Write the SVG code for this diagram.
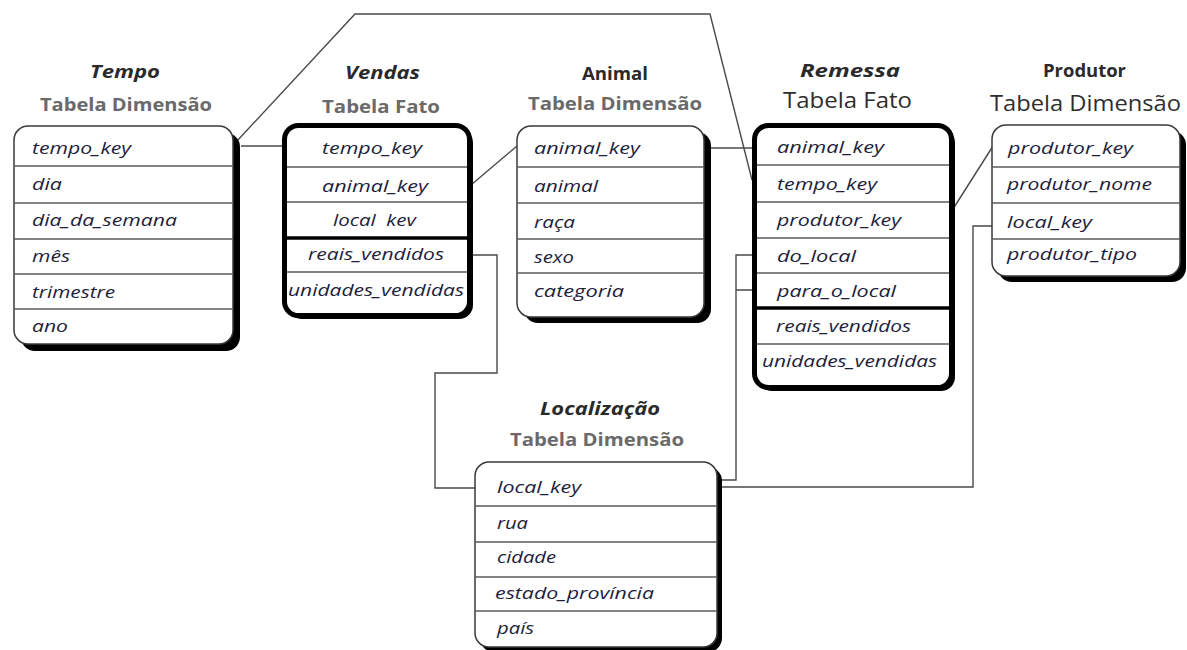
<svg xmlns="http://www.w3.org/2000/svg" width="1187" height="650" viewBox="0 0 1187 650">
  <style>
    .bg { fill: #ffffff; }
    .dim { fill: #ffffff; stroke: #3a3a3a; stroke-width: 1.5; }
    .fact { fill: #ffffff; stroke: #000000; stroke-width: 5; }
    .shadow { fill: #000000; }
    .sep { stroke: #5a5a5a; stroke-width: 1.5; }
    .sepb { stroke: #000000; stroke-width: 3.5; }
    .wire { fill: none; stroke: #4a4a4a; stroke-width: 1.4; }
    .row { font-family: "Open Sans", "Liberation Sans", sans-serif; font-style: italic; font-weight: 500; font-size: 16px; fill: #1e1e3c; }
    .title { font-family: "Open Sans", "Liberation Sans", sans-serif; font-weight: bold; font-size: 17px; fill: #2a2a2a; }
    .it { font-style: italic; }
    .sub { font-family: "Open Sans", "Liberation Sans", sans-serif; font-weight: bold; font-size: 17px; fill: #6a6a6a; }
    .subdark { font-family: "Open Sans", "Liberation Sans", sans-serif; font-weight: normal; font-size: 21px; fill: #2e2e2e; }
  </style>
  <rect class="bg" x="0" y="0" width="1187" height="650"/>

  <!-- key connectors -->
  <g id="connectors">
    <path class="wire" d="M237,141 L355,14 L710,14 L752,180"/>
    <path class="wire" d="M241,146 L284,146"/>
    <path class="wire" d="M471,185 L517,146"/>
    <path class="wire" d="M711,148 L752,148"/>
    <path class="wire" d="M953,209 L993,146"/>
    <path class="wire" d="M471,255 L497,255 L497,373 L435,373 L435,488 L475,488"/>
    <path class="wire" d="M752,255 L736,255 L736,480 L717,480 M736,290 L752,290"/>
    <path class="wire" d="M992,226 L973,226 L973,487 L722,487"/>
  </g>

  <!-- Tempo dimension -->
  <g id="tempo">
    <text class="title it" x="90" y="78" textLength="70" lengthAdjust="spacingAndGlyphs">Tempo</text>
    <text class="sub" x="40" y="111" textLength="172" lengthAdjust="spacingAndGlyphs">Tabela Dimensão</text>
    <rect class="shadow" x="21" y="133" width="219" height="218" rx="14"/>
    <rect class="dim" x="14" y="126" width="219" height="218" rx="14"/>
    <line class="sep" x1="14" y1="166" x2="233" y2="166"/>
    <line class="sep" x1="14" y1="203" x2="233" y2="203"/>
    <line class="sep" x1="14" y1="239" x2="233" y2="239"/>
    <line class="sep" x1="14" y1="274" x2="233" y2="274"/>
    <line class="sep" x1="14" y1="309" x2="233" y2="309"/>
    <text class="row" x="32" y="154" textLength="99" lengthAdjust="spacingAndGlyphs">tempo_key</text>
    <text class="row" x="32" y="190" textLength="30" lengthAdjust="spacingAndGlyphs">dia</text>
    <text class="row" x="32" y="226" textLength="145" lengthAdjust="spacingAndGlyphs">dia_da_semana</text>
    <text class="row" x="32" y="262" textLength="38" lengthAdjust="spacingAndGlyphs">mês</text>
    <text class="row" x="32" y="298" textLength="83" lengthAdjust="spacingAndGlyphs">trimestre</text>
    <text class="row" x="32" y="332" textLength="36" lengthAdjust="spacingAndGlyphs">ano</text>
  </g>

  <!-- Vendas fact -->
  <g id="vendas">
    <text class="title it" x="345" y="79" textLength="75" lengthAdjust="spacingAndGlyphs">Vendas</text>
    <text class="sub" x="322" y="113" textLength="118" lengthAdjust="spacingAndGlyphs">Tabela Fato</text>
    <rect class="shadow" x="288" y="129" width="185" height="190" rx="14"/>
    <rect class="fact" x="284.5" y="125.5" width="185" height="190" rx="14"/>
    <line class="sep" x1="287" y1="167" x2="467" y2="167"/>
    <line class="sep" x1="287" y1="202" x2="467" y2="202"/>
    <line class="sepb" x1="287" y1="238" x2="467" y2="238"/>
    <line class="sep" x1="287" y1="272" x2="467" y2="272"/>
    <text class="row" x="322" y="154" textLength="100" lengthAdjust="spacingAndGlyphs">tempo_key</text>
    <text class="row" x="322" y="192" textLength="106" lengthAdjust="spacingAndGlyphs">animal_key</text>
    <text class="row" x="333" y="226" textLength="83" lengthAdjust="spacingAndGlyphs">local&#160; kev</text>
    <text class="row" x="308" y="260" textLength="136" lengthAdjust="spacingAndGlyphs">reais_vendidos</text>
    <text class="row" x="288" y="296" textLength="176" lengthAdjust="spacingAndGlyphs">unidades_vendidas</text>
  </g>

  <!-- Animal dimension -->
  <g id="animal">
    <text class="title" x="582" y="80" textLength="66" lengthAdjust="spacingAndGlyphs">Animal</text>
    <text class="sub" x="528" y="110" textLength="174" lengthAdjust="spacingAndGlyphs">Tabela Dimensão</text>
    <rect class="shadow" x="524" y="132" width="187" height="191" rx="14"/>
    <rect class="dim" x="517" y="126" width="187" height="191" rx="14"/>
    <line class="sep" x1="517" y1="167" x2="704" y2="167"/>
    <line class="sep" x1="517" y1="203" x2="704" y2="203"/>
    <line class="sep" x1="517" y1="239" x2="704" y2="239"/>
    <line class="sep" x1="517" y1="273" x2="704" y2="273"/>
    <text class="row" x="534" y="154" textLength="106" lengthAdjust="spacingAndGlyphs">animal_key</text>
    <text class="row" x="534" y="192" textLength="64" lengthAdjust="spacingAndGlyphs">animal</text>
    <text class="row" x="534" y="228" textLength="41" lengthAdjust="spacingAndGlyphs">raça</text>
    <text class="row" x="534" y="263" textLength="40" lengthAdjust="spacingAndGlyphs">sexo</text>
    <text class="row" x="534" y="297" textLength="90" lengthAdjust="spacingAndGlyphs">categoria</text>
  </g>

  <!-- Remessa fact -->
  <g id="remessa">
    <text class="title it" x="800" y="77" font-size="20" textLength="100" lengthAdjust="spacingAndGlyphs">Remessa</text>
    <text class="subdark" x="783" y="108" textLength="129" lengthAdjust="spacingAndGlyphs">Tabela Fato</text>
    <rect class="shadow" x="758" y="129" width="197" height="262" rx="14"/>
    <rect class="fact" x="754.5" y="125.5" width="197" height="262" rx="14"/>
    <line class="sep" x1="757" y1="165" x2="949" y2="165"/>
    <line class="sep" x1="757" y1="202" x2="949" y2="202"/>
    <line class="sep" x1="757" y1="238" x2="949" y2="238"/>
    <line class="sep" x1="757" y1="273" x2="949" y2="273"/>
    <line class="sepb" x1="757" y1="308" x2="949" y2="308"/>
    <line class="sep" x1="757" y1="344" x2="949" y2="344"/>
    <text class="row" x="777" y="153" textLength="107" lengthAdjust="spacingAndGlyphs">animal_key</text>
    <text class="row" x="777" y="190" textLength="100" lengthAdjust="spacingAndGlyphs">tempo_key</text>
    <text class="row" x="777" y="226" textLength="124" lengthAdjust="spacingAndGlyphs">produtor_key</text>
    <text class="row" x="777" y="262" textLength="79" lengthAdjust="spacingAndGlyphs">do_local</text>
    <text class="row" x="777" y="297" textLength="119" lengthAdjust="spacingAndGlyphs">para_o_local</text>
    <text class="row" x="776" y="332" textLength="135" lengthAdjust="spacingAndGlyphs">reais_vendidos</text>
    <text class="row" x="762" y="367" textLength="175" lengthAdjust="spacingAndGlyphs">unidades_vendidas</text>
  </g>

  <!-- Produtor dimension -->
  <g id="produtor">
    <text class="title" x="1043" y="77" textLength="83" lengthAdjust="spacingAndGlyphs">Produtor</text>
    <text class="subdark" x="990" y="111" font-size="22" textLength="191" lengthAdjust="spacingAndGlyphs">Tabela Dimensão</text>
    <rect class="shadow" x="998" y="131" width="188" height="151" rx="14"/>
    <rect class="dim" x="992" y="125" width="188" height="151" rx="14"/>
    <line class="sep" x1="992" y1="167" x2="1180" y2="167"/>
    <line class="sep" x1="992" y1="203" x2="1180" y2="203"/>
    <line class="sep" x1="992" y1="239" x2="1180" y2="239"/>
    <text class="row" x="1008" y="154" textLength="125" lengthAdjust="spacingAndGlyphs">produtor_key</text>
    <text class="row" x="1007" y="190" textLength="145" lengthAdjust="spacingAndGlyphs">produtor_nome</text>
    <text class="row" x="1007" y="228" textLength="85" lengthAdjust="spacingAndGlyphs">local_key</text>
    <text class="row" x="1007" y="260" textLength="130" lengthAdjust="spacingAndGlyphs">produtor_tipo</text>
  </g>

  <!-- Localização dimension -->
  <g id="localizacao">
    <text class="title it" x="540" y="415" textLength="120" lengthAdjust="spacingAndGlyphs">Localização</text>
    <text class="sub" x="510" y="446" textLength="174" lengthAdjust="spacingAndGlyphs">Tabela Dimensão</text>
    <rect class="shadow" x="480" y="467" width="242" height="185" rx="14"/>
    <rect class="dim" x="475" y="462" width="242" height="185" rx="14"/>
    <line class="sep" x1="475" y1="506" x2="717" y2="506"/>
    <line class="sep" x1="475" y1="542" x2="717" y2="542"/>
    <line class="sep" x1="475" y1="577" x2="717" y2="577"/>
    <line class="sep" x1="475" y1="611" x2="717" y2="611"/>
    <text class="row" x="497" y="493" textLength="84" lengthAdjust="spacingAndGlyphs">local_key</text>
    <text class="row" x="497" y="529" textLength="31" lengthAdjust="spacingAndGlyphs">rua</text>
    <text class="row" x="497" y="563" textLength="59" lengthAdjust="spacingAndGlyphs">cidade</text>
    <text class="row" x="495" y="599" textLength="159" lengthAdjust="spacingAndGlyphs">estado_província</text>
    <text class="row" x="497" y="634" textLength="37" lengthAdjust="spacingAndGlyphs">país</text>
  </g>
</svg>
